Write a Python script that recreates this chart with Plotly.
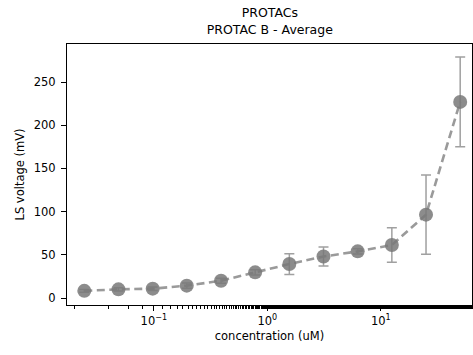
import plotly.graph_objects as go

concentration = [0.0244, 0.0488, 0.0977, 0.195, 0.391, 0.781, 1.5625, 3.125, 6.25, 12.5, 25, 50]
voltage = [8.3, 10.0, 10.8, 14.3, 20.0, 29.7, 39.3, 48.0, 54.0, 61.3, 96.5, 227.0]
voltage_err = [1.5, 2.0, 2.0, 3.0, 3.0, 3.0, 12.0, 11.0, 3.0, 20.0, 46.0, 52.0]

x_tickvals = [0.1, 1, 10]
x_ticktext = ["10<sup>−1</sup>", "10<sup>0</sup>", "10<sup>1</sup>"]
y_tickvals = [0, 50, 100, 150, 200, 250]

fig = go.Figure()
fig.add_trace(go.Scatter(
    x=concentration, y=voltage,
    mode="lines+markers",
    line=dict(color="#9a9a9a", width=2.6, dash="8px,4.5px"),
    marker=dict(size=14, color="rgba(120,120,120,0.85)", line=dict(width=0)),
    error_y=dict(type="data", array=voltage_err, color="#a0a0a0", thickness=1.5, width=5),
    showlegend=False,
))

font = "DejaVu Sans"
fig.update_layout(
    width=473, height=355,
    margin=dict(l=67, r=1, t=44, b=50),
    paper_bgcolor="white", plot_bgcolor="white",
    font=dict(family=font, size=11.5, color="black"),
    title=dict(text="PROTACs<br>PROTAC B - Average", x=0.5705, xanchor="center",
               y=0.951, yanchor="top", font=dict(size=12.5)),
    xaxis=dict(type="log", range=[-1.765, 1.803],
               tickvals=x_tickvals, ticktext=x_ticktext,
               ticks="outside", ticklen=5, tickwidth=1, tickcolor="black",
               minor=dict(ticks="outside", ticklen=3, tickcolor="black", showgrid=False),
               showgrid=False, zeroline=False,
               showline=True, linecolor="black", linewidth=1.2, mirror=True,
               title=dict(text="concentration (uM)", standoff=5, font=dict(size=11.5))),
    yaxis=dict(range=[-8.1, 294],
               tickvals=y_tickvals,
               ticks="outside", ticklen=5, tickwidth=1, tickcolor="black",
               ticklabelstandoff=3,
               showgrid=False, zeroline=False,
               showline=True, linecolor="black", linewidth=1.2, mirror=True,
               title=dict(text="LS voltage (mV)", standoff=6, font=dict(size=11.5))),
)

fig.write_html("out.html", config={"displayModeBar": False},
               post_script="document.body.style.margin='0';document.body.style.overflow='hidden';")
